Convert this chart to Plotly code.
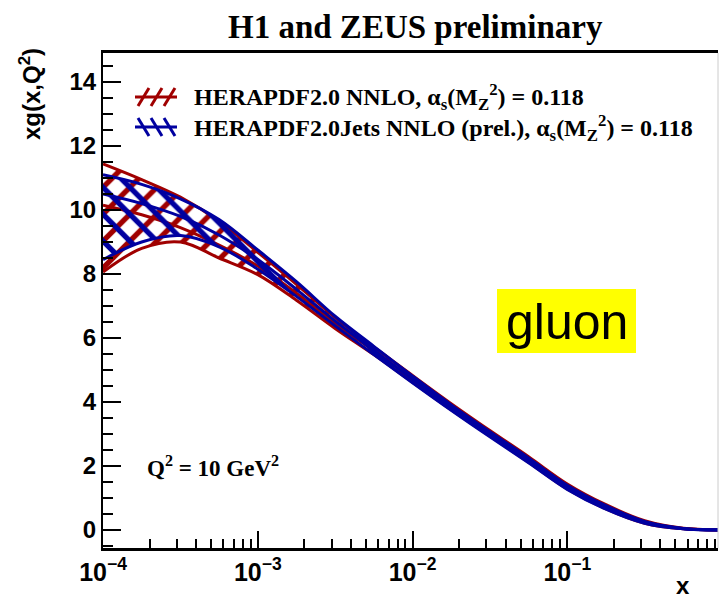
import plotly.graph_objects as go

# x grid (log-spaced) and gluon density xg(x, Q^2 = 10 GeV^2)
x_vals = [1.0e-4, 1.778e-4, 3.162e-4, 5.623e-4, 1.0e-3, 1.778e-3, 3.162e-3, 5.623e-3,
          1.0e-2, 1.778e-2, 3.162e-2, 5.623e-2, 1.0e-1, 1.778e-1, 3.162e-1, 5.623e-1, 1.0]

# HERAPDF2.0 NNLO
hera_up = [11.44, 10.95, 10.40, 9.65, 8.68, 7.68, 6.64, 5.72, 4.83, 3.95, 3.11, 2.29, 1.44, 0.79, 0.29, 0.055, 0.004]
hera_cen = [10.15, 9.85, 9.45, 8.90, 8.25, 7.40, 6.46, 5.60, 4.72, 3.85, 3.02, 2.20, 1.35, 0.72, 0.25, 0.045, 0.003]
hera_lo = [8.06, 8.80, 9.00, 8.50, 7.98, 7.18, 6.30, 5.48, 4.62, 3.76, 2.94, 2.12, 1.28, 0.66, 0.21, 0.035, 0.002]

# HERAPDF2.0Jets NNLO (prel.)
jets_up = [11.10, 10.80, 10.35, 9.70, 8.75, 7.76, 6.68, 5.74, 4.81, 3.91, 3.07, 2.25, 1.40, 0.76, 0.27, 0.050, 0.004]
jets_cen = [10.50, 10.20, 9.80, 9.22, 8.45, 7.52, 6.53, 5.61, 4.71, 3.83, 3.00, 2.18, 1.34, 0.71, 0.24, 0.042, 0.003]
jets_lo = [8.45, 9.00, 9.20, 8.85, 8.15, 7.30, 6.38, 5.48, 4.60, 3.74, 2.91, 2.10, 1.27, 0.65, 0.21, 0.035, 0.002]

legend_labels = [
    "HERAPDF2.0 NNLO, α<sub>s</sub>(M<sub>Z</sub><sup>2</sup>) = 0.118",
    "HERAPDF2.0Jets NNLO (prel.), α<sub>s</sub>(M<sub>Z</sub><sup>2</sup>) = 0.118",
]

RED = "#a00000"
BLUE = "#0000a0"
LW = 3

fig = go.Figure()


def add_band(lo, up, cen, color, pattern):
    fig.add_trace(go.Scatter(x=x_vals, y=lo, mode="lines", line=dict(color=color, width=LW, shape="spline"),
                             showlegend=False, hoverinfo="skip"))
    fig.add_trace(go.Scatter(x=x_vals, y=up, mode="lines", line=dict(color=color, width=LW, shape="spline"),
                             fill="tonexty", fillcolor="rgba(0,0,0,0)",
                             fillpattern=dict(shape=pattern, fgcolor=color, fgopacity=1,
                                              bgcolor="rgba(0,0,0,0)", size=19, solidity=0.28),
                             showlegend=False, hoverinfo="skip"))
    fig.add_trace(go.Scatter(x=x_vals, y=cen, mode="lines", line=dict(color=color, width=LW, shape="spline"),
                             showlegend=False, hoverinfo="skip"))


add_band(hera_lo, hera_up, hera_cen, RED, "/")
add_band(jets_lo, jets_up, jets_cen, BLUE, "\\")

# pixel -> paper helpers for the plot frame
L, R, T, B = 103, 718, 53, 548


def px(p):
    return (p - L) / (R - L)


def py(p):
    return (B - p) / (B - T)


minor_x = [m * 10.0 ** e for e in (-4, -3, -2, -1) for m in range(2, 10)]

fig.update_layout(
    width=720, height=604,
    margin=dict(l=L, r=720 - R, t=T, b=604 - B),
    paper_bgcolor="white", plot_bgcolor="white",
    showlegend=False,
    xaxis=dict(
        type="log", range=[-4, -4 + (R - L) / 154.75],
        showgrid=False, zeroline=False,
        showline=True, linecolor="black", linewidth=2.5, mirror=True,
        ticks="inside", ticklen=17, tickwidth=2, tickcolor="black",
        tickvals=[1e-4, 1e-3, 1e-2, 1e-1], ticktext=["10<sup>−4</sup>", "10<sup>−3</sup>", "10<sup>−2</sup>", "10<sup>−1</sup>"],
        tickfont=dict(family="Liberation Sans", size=25, color="black", weight="bold"),
        minor=dict(ticks="inside", ticklen=9, tickwidth=2, tickcolor="black", tickvals=minor_x),
    ),
    yaxis=dict(
        range=[-0.5625, 14.906],
        showgrid=False, zeroline=False,
        showline=True, linecolor="black", linewidth=2,
        ticks="inside", ticklen=18, tickwidth=2, tickcolor="black",
        tick0=0, dtick=2,
        tickfont=dict(family="Liberation Sans", size=24, color="black", weight="bold"),
        minor=dict(ticks="inside", ticklen=10, tickwidth=2, tickcolor="black", dtick=0.5, tick0=0),
    ),
)

annotations = [
    dict(x=px(415), y=py(27), text="<b>H1 and ZEUS preliminary</b>",
         font=dict(family="Liberation Serif", size=33, color="black")),
    dict(x=px(30), y=py(94), text="<b>xg(x,Q<sup>2</sup>)</b>", textangle=-90,
         font=dict(family="Liberation Sans", size=24, color="black")),
    dict(x=px(683), y=py(585), text="<b>x</b>",
         font=dict(family="Liberation Sans", size=24, color="black")),
    dict(x=px(192), y=py(97), text="<b>" + legend_labels[0] + "</b>", xanchor="left",
         font=dict(family="Liberation Serif", size=24, color="black")),
    dict(x=px(192), y=py(128), text="<b>" + legend_labels[1] + "</b>", xanchor="left",
         font=dict(family="Liberation Serif", size=24, color="black")),
    dict(x=px(145), y=py(466), text="<b>Q<sup>2</sup> = 10 GeV<sup>2</sup></b>", xanchor="left",
         font=dict(family="Liberation Serif", size=23, color="black")),
    dict(x=px(567), y=py(322), text="gluon",
         font=dict(family="Liberation Sans", size=50, color="black")),
]
for a in annotations:
    a.setdefault("xref", "paper")
    a.setdefault("yref", "paper")
    a.setdefault("showarrow", False)
    a.setdefault("xanchor", "center")
    a.setdefault("yanchor", "middle")
fig.update_layout(annotations=annotations)

shapes = [
    # yellow box behind the "gluon" label
    dict(type="rect", x0=px(497), x1=px(636), y0=py(353), y1=py(289),
         fillcolor="#ffff00", line=dict(width=0), layer="below"),
    # faint right frame edge
    dict(type="line", x0=1, x1=1, y0=0, y1=1, line=dict(color="#cccccc", width=1)),
]
# legend icons: hatch strokes plus a horizontal line
for yc, color, sgn in ((97, RED, 1), (127, BLUE, -1)):
    shapes.append(dict(type="line", x0=px(135), x1=px(177), y0=py(yc), y1=py(yc),
                       line=dict(color=color, width=3)))
    for xs in (138, 151, 164):
        shapes.append(dict(type="line", x0=px(xs), x1=px(xs + 11),
                           y0=py(yc + 9 * sgn), y1=py(yc - 9 * sgn),
                           line=dict(color=color, width=3)))
for s in shapes:
    s.setdefault("xref", "paper")
    s.setdefault("yref", "paper")
fig.update_layout(shapes=shapes)

fig.write_html("out.html")
